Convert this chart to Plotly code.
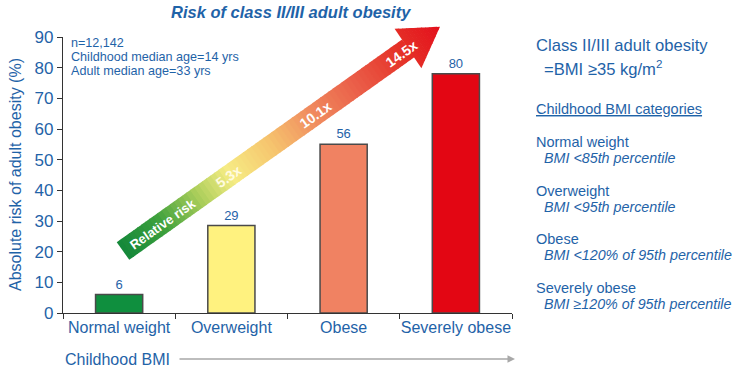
import plotly.graph_objects as go
import math

# ---- data ----
categories = ["Normal weight", "Overweight", "Obese", "Severely obese"]
risk_values = [6, 28.5, 55, 78]          # bar heights as drawn
risk_labels = ["6", "29", "56", "80"]    # printed labels
bar_colors = ["#0f8f3e", "#fff27f", "#f08262", "#e30613"]
relative_risk = ["5.3x", "10.1x", "14.5x"]

BLUE = "#1f63a8"
FONT = "Arial, Liberation Sans, sans-serif"

W, H = 735, 367
L, R, T, B = 63, 223, 37, 54
PW, PH = W - L - R, H - T - B

def px(x, y):
    # reference-picture pixel -> paper coordinates
    return (x - L) / PW, (H - B - y) / PH

fig = go.Figure()
fig.add_trace(go.Bar(
    x=categories, y=risk_values, text=risk_labels, textposition="outside",
    textfont=dict(size=13, color=BLUE, family=FONT),
    marker=dict(color=bar_colors, line=dict(color="#4a4a4a", width=1.5)),
    width=0.42, cliponaxis=False, hoverinfo="skip"))

# ---- gradient arrow (decoration) ----
start = (123.0, 251.0)
base_mid = (408.0, 48.5)
tip = (440.0, 26.7)
dx, dy = base_mid[0] - start[0], base_mid[1] - start[1]
body_len = math.hypot(dx, dy)
ux, uy = dx / body_len, dy / body_len
nx, ny = -uy, ux  # perpendicular
hw_body = 10.8
hw_head = 23.8
head_len = math.hypot(tip[0] - base_mid[0], tip[1] - base_mid[1])
total = body_len + head_len

stops = [(0.0, (19, 135, 58)), (0.12, (60, 160, 60)), (0.24, (170, 205, 90)),
         (0.34, (246, 236, 132)), (0.47, (246, 196, 110)), (0.6, (240, 140, 95)),
         (0.75, (234, 90, 70)), (0.88, (229, 50, 40)), (1.0, (227, 16, 28))]

def color_at(t):
    for (t0, c0), (t1, c1) in zip(stops, stops[1:]):
        if t <= t1:
            f = (t - t0) / (t1 - t0) if t1 > t0 else 0
            c = [round(a + (b - a) * f) for a, b in zip(c0, c1)]
            return "rgb(%d,%d,%d)" % tuple(c)
    return "rgb(%d,%d,%d)" % stops[-1][1]

def quad(pts, color):
    path = "M " + " L ".join("%.5f,%.5f" % px(x, y) for x, y in pts) + " Z"
    fig.add_shape(type="path", path=path, xref="paper", yref="paper",
                  fillcolor=color, line=dict(width=0), layer="above")

N = 70
for i in range(N):
    s0 = body_len * i / N
    s1 = body_len * (i + 1) / N + 0.8
    s1 = min(s1, body_len + 0.5)
    c0 = (start[0] + ux * s0, start[1] + uy * s0)
    c1 = (start[0] + ux * s1, start[1] + uy * s1)
    pts = [(c0[0] + nx * hw_body, c0[1] + ny * hw_body),
           (c1[0] + nx * hw_body, c1[1] + ny * hw_body),
           (c1[0] - nx * hw_body, c1[1] - ny * hw_body),
           (c0[0] - nx * hw_body, c0[1] - ny * hw_body)]
    quad(pts, color_at((s0 + s1) / 2 / total))

M = 12
hx, hy = (tip[0] - base_mid[0]) / head_len, (tip[1] - base_mid[1]) / head_len
hnx, hny = -hy, hx
for i in range(M):
    s0 = head_len * i / M
    s1 = min(head_len * (i + 1) / M + 0.6, head_len)
    w0 = hw_head * (1 - s0 / head_len)
    w1 = hw_head * (1 - s1 / head_len)
    c0 = (base_mid[0] + hx * s0, base_mid[1] + hy * s0)
    c1 = (base_mid[0] + hx * s1, base_mid[1] + hy * s1)
    pts = [(c0[0] + hnx * w0, c0[1] + hny * w0),
           (c1[0] + hnx * w1, c1[1] + hny * w1),
           (c1[0] - hnx * w1, c1[1] - hny * w1),
           (c0[0] - hnx * w0, c0[1] - hny * w0)]
    quad(pts, color_at((body_len + (s0 + s1) / 2) / total))

angle = -math.degrees(math.atan2(-uy, ux))

def arrow_text(x, y, text, color="white", size=14):
    xp, yp = px(x, y)
    fig.add_annotation(x=xp, y=yp, xref="paper", yref="paper", text="<b>%s</b>" % text,
                       showarrow=False, textangle=angle, xanchor="center", yanchor="middle",
                       font=dict(size=size, color=color, family=FONT))

arrow_text(162, 224, "Relative risk", size=13)
arrow_text(228, 177, relative_risk[0], color="#fffbe0")
arrow_text(315, 115, relative_risk[1])
arrow_text(401, 54, relative_risk[2])

# ---- text annotations ----
def txt(x, y, text, size=14, anchor="left", yanchor="middle", italic=False, bold=False, angle=0):
    xp, yp = px(x, y)
    if italic:
        text = "<i>%s</i>" % text
    if bold:
        text = "<b>%s</b>" % text
    fig.add_annotation(x=xp, y=yp, xref="paper", yref="paper", text=text,
                       showarrow=False, xanchor=anchor, yanchor=yanchor, align="left",
                       textangle=angle, font=dict(size=size, color=BLUE, family=FONT))

txt(291, 12, "Risk of class II/III adult obesity", size=16.5, anchor="center", italic=True, bold=True)
info_lines = ["n=12,142", "Childhood median age=14 yrs", "Adult median age=33 yrs"]
for k, line in enumerate(info_lines):
    txt(69, 43 + 14 * k, line, size=12.6)
txt(15, 175, "Absolute risk of adult obesity (%)", size=16, anchor="center", angle=-90)
txt(534, 45, "Class II/III adult obesity", size=16.6)
txt(542, 68, "=BMI ≥35 kg/m<sup>2</sup>", size=16.6)
txt(534, 109, "<u>Childhood BMI categories</u>", size=14.5)
legend_rows = [("Normal weight", "BMI <85th percentile", 142),
               ("Overweight", "BMI <95th percentile", 191),
               ("Obese", "BMI <120% of 95th percentile", 239),
               ("Severely obese", "BMI ≥120% of 95th percentile", 288)]
for name, desc, y in legend_rows:
    txt(534, y, name, size=14.5)
    txt(542, y + 16, desc, size=14.3, italic=True)

txt(63, 359, "Childhood BMI", size=16)
ax0, ay0 = px(515, 359)
fig.add_annotation(x=ax0, y=ay0, xref="paper", yref="paper", text="", showarrow=True,
                   ax=-337, ay=0, arrowhead=2, arrowsize=1, arrowwidth=1.5,
                   arrowcolor="#a8a8a8")

fig.update_layout(
    width=W, height=H, margin=dict(l=L, r=R, t=T, b=B, autoexpand=False),
    plot_bgcolor="white", paper_bgcolor="white", showlegend=False,
    font=dict(family=FONT, color=BLUE),
    xaxis=dict(showline=True, linecolor="#333333", linewidth=1.2, ticks="outside",
               ticklen=5, tickcolor="#333333", tickson="boundaries", tickangle=0,
               automargin=False,
               tickfont=dict(size=16, color=BLUE, family=FONT), showgrid=False,
               range=[-0.5, 3.5]),
    yaxis=dict(range=[0, 90], dtick=10, showline=True, linecolor="#333333", linewidth=1.2,
               ticks="outside", ticklen=5, tickcolor="#333333", showgrid=False,
               automargin=False, zeroline=False,
               tickfont=dict(size=17, color=BLUE, family=FONT)),
)

fig.write_html("out.html", config={"displayModeBar": False},
               post_script="document.body.style.margin='0';document.body.style.overflow='hidden';")
